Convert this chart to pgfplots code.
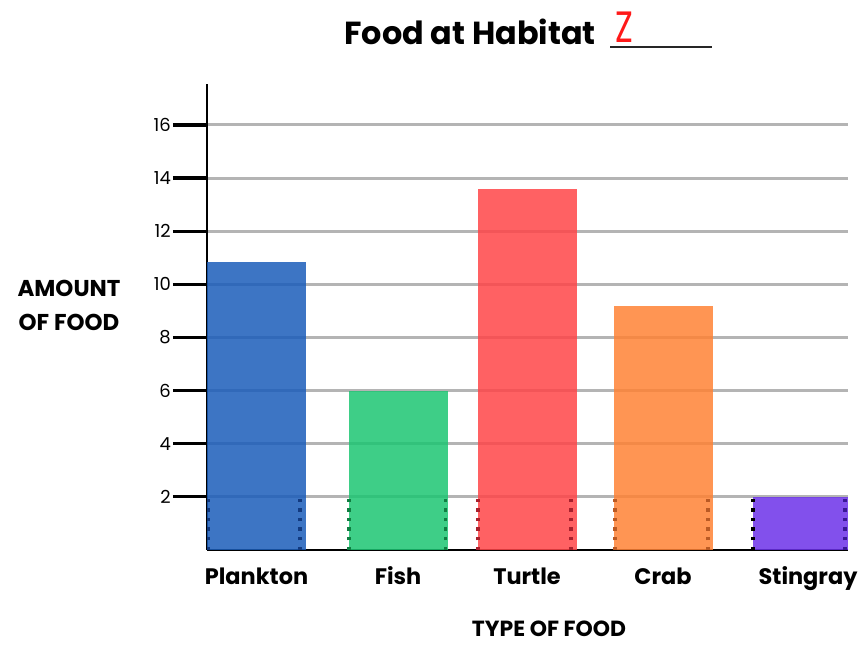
\documentclass[border=0pt]{standalone}
\usepackage{fontspec}
\setmainfont{Poppins}
\usepackage{pgfplots}
\pgfplotsset{compat=1.18}

\definecolor{gridgray}{HTML}{B4B4B4}
% bar colours, chosen so that at 85% opacity they show the intended shade
\definecolor{cplank}{HTML}{1B5DBA}
\definecolor{cfish}{HTML}{1CC572}
\definecolor{cturtle}{HTML}{FF4548}
\definecolor{ccrab}{HTML}{FF8235}
\definecolor{cray}{HTML}{6C31E9}
\definecolor{dplank}{HTML}{123A80}
\definecolor{dfish}{HTML}{107E42}
\definecolor{dturtle}{HTML}{A8202C}
\definecolor{dcrab}{HTML}{BA5A24}
\definecolor{dray}{HTML}{3A1896}

\begin{document}
\begin{tikzpicture}[x=1bp,y=1bp]
\useasboundingbox (0,0) rectangle (861,645);
\begin{axis}[
  at={(207bp,95bp)}, anchor=south west,
  scale only axis, width=641bp, height=466bp,
  xmin=0, xmax=641, ymin=0, ymax=17.54,
  axis x line*=bottom, axis y line*=left,
  axis line style={line width=1.6bp, black},
  ytick={2,4,...,16},
  xtick={49.5,191,320,456,601},
  xticklabels={Plankton,Fish,Turtle,Crab,Stingray},
  ymajorgrids,
  grid style={line width=3bp, gridgray},
  tick align=outside,
  major tick length=34bp,
  ytick style={line width=3.2bp, black},
  xtick style={draw=none},
  /pgf/number format/assume math mode=true,
  yticklabel style={font=\fontsize{18}{18}\selectfont, inner sep=2bp},
  xticklabel style={font=\bfseries\fontsize{22.5}{22.5}\selectfont, anchor=base, yshift=-1bp},
  clip=false,
  ybar, bar width=99, bar shift=0pt,
]
% bars, translucent so the grid shows through
\addplot[fill=cplank, draw=none, fill opacity=0.85] coordinates {(49.5,10.85)};
\addplot[fill=cfish, draw=none, fill opacity=0.85] coordinates {(191,6.0)};
\addplot[fill=cturtle, draw=none, fill opacity=0.85] coordinates {(320,13.6)};
\addplot[fill=ccrab, draw=none, fill opacity=0.85] coordinates {(456,9.2)};
\addplot[fill=cray, draw=none, fill opacity=0.85, bar width=95] coordinates {(593.5,2.0)};
% dotted markers up to the first grid line
\pgfplotsset{dots/.style={sharp plot, line width=3.4bp, dash pattern=on 3.4bp off 6.2bp}}
\addplot[dots, dplank] coordinates {(1.5,0) (1.5,2)};
\addplot[dots, dplank] coordinates {(93,0) (93,2)};
\addplot[dots, dfish] coordinates {(142,0) (142,2)};
\addplot[dots, dfish] coordinates {(238.5,0) (238.5,2)};
\addplot[dots, dturtle] coordinates {(271,0) (271,2)};
\addplot[dots, dturtle] coordinates {(364,0) (364,2)};
\addplot[dots, dcrab] coordinates {(408,0) (408,2)};
\addplot[dots, dcrab] coordinates {(501,0) (501,2)};
\addplot[dots, black] coordinates {(546,0) (546,2)};
\addplot[dots, dray] coordinates {(638,0) (638,2)};
\end{axis}
% title
\node[anchor=base, font=\bfseries\fontsize{32}{32}\selectfont] at (470,600) {Food at Habitat};
\node[anchor=base, text=red!90!white, font=\fontsize{44}{44}\selectfont] at (624,602) {\scalebox{0.75}[1]{Z}};
\draw[line width=2.2bp, black!85] (610,598) -- (712,598);
% axis labels
\node[anchor=base, font=\bfseries\fontsize{23}{23}\selectfont] at (69,348) {AMOUNT};
\node[anchor=base, font=\bfseries\fontsize{23}{23}\selectfont] at (69,314) {OF FOOD};
\node[anchor=base, font=\bfseries\fontsize{22}{22}\selectfont] at (549,8) {TYPE OF FOOD};
\end{tikzpicture}
\end{document}
